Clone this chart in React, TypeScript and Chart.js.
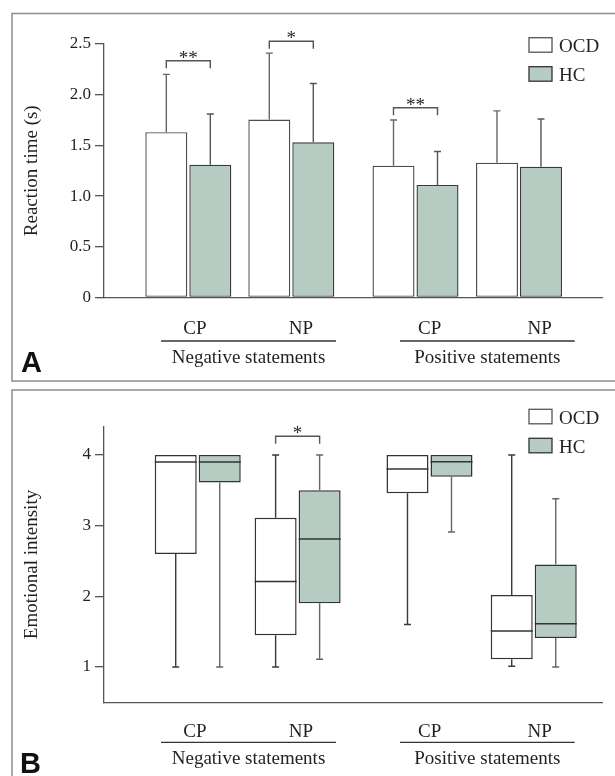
import React, { useEffect, useRef } from 'react';
import { Chart, registerables } from 'chart.js';

Chart.register(...registerables);

// ---------- shared categories ----------
const conditionLabels = ['CP', 'NP', 'CP', 'NP'];
const statementLabels = ['Negative statements', 'Positive statements'];
const seriesLabels = ['OCD', 'HC'];

// ---------- Panel A: reaction time (mean + upward SD) ----------
const reactionTicks = [0, 0.5, 1.0, 1.5, 2.0, 2.5];
const ocdMeanRT = [1.63, 1.755, 1.3, 1.33];
const ocdSdRT = [0.57, 0.655, 0.45, 0.51];
const hcMeanRT = [1.31, 1.53, 1.11, 1.29];
const hcSdRT = [0.5, 0.58, 0.33, 0.47];
const sigGroupsA = [0, 1, 2];
const sigMarksA = ['**', '*', '**'];
const sigLevelsA = [2.335, 2.527, 1.872];

// ---------- Panel B: emotional intensity (box plots) ----------
const intensityTicks = [1, 2, 3, 4];
const ocdMin = [1.0, 1.0, 1.6, 1.01];
const ocdQ1 = [2.6, 1.45, 3.46, 1.11];
const ocdMedian = [3.9, 2.21, 3.8, 1.51];
const ocdQ3 = [4.0, 3.11, 4.0, 2.02];
const ocdMax = [4.0, 4.0, 4.0, 4.0];
const hcMin = [1.0, 1.11, 2.91, 1.0];
const hcQ1 = [3.61, 1.9, 3.69, 1.41];
const hcMedian = [3.9, 2.81, 3.905, 1.61];
const hcQ3 = [4.0, 3.5, 4.0, 2.45];
const hcMax = [4.0, 4.0, 4.0, 3.38];
const sigGroupsB = [1];
const sigMarksB = ['*'];
const sigLevelsB = [4.265];

// ---------- layout (positions on a 0..10 linear x axis) ----------
const X_MIN = 0;
const X_MAX = 10;
const groupPosA = [1.693, 3.761, 6.255, 8.333];
const groupPosB = [1.882, 3.888, 6.536, 8.629];
const conditionLabelPos = [1.825, 3.956, 6.54, 8.749];
const statementStart = [1.145, 5.944];
const statementEnd = [4.659, 9.452];

const SERIF = "'Liberation Serif', 'Times New Roman', serif";
const SANS = "'Liberation Sans', Arial, sans-serif";
const INK = '#231f20';
const AXIS = '#555555';
const OCD_FILL = '#ffffff';
const HC_FILL = '#b6cbc2';

function decorPlugin(p: any) {
  return {
    id: 'decor' + p.letter,
    beforeDraw(chart: any) {
      const ctx = chart.ctx;
      ctx.save();
      ctx.fillStyle = '#ffffff';
      ctx.fillRect(0, 0, chart.width, chart.height);
      ctx.strokeStyle = '#8c8c8c';
      ctx.lineWidth = 1.5;
      ctx.strokeRect(p.frame[0], p.frame[1], p.frame[2], p.frame[3]);
      ctx.fillStyle = '#111111';
      ctx.font = `bold 29px ${SANS}`;
      ctx.textAlign = 'left';
      ctx.textBaseline = 'alphabetic';
      ctx.fillText(p.letter, p.letterPos[0], p.letterPos[1]);
      ctx.restore();
    },
    afterDatasetsDraw(chart: any) {
      const ctx = chart.ctx;
      const xs = chart.scales.x;
      const ys = chart.scales.y;
      const area = chart.chartArea;
      ctx.save();
      ctx.lineCap = 'butt';

      // error bars / whiskers / medians
      chart.data.datasets.forEach((ds: any, di: number) => {
        const meta = chart.getDatasetMeta(di);
        meta.data.forEach((bar: any, i: number) => {
          ctx.strokeStyle = ds.whiskerColor;
          ctx.lineWidth = 1.4;
          if (ds.sd) {
            const top = ys.getPixelForValue(ds.means[i] + ds.sd[i]);
            ctx.beginPath();
            ctx.moveTo(bar.x, bar.y);
            ctx.lineTo(bar.x, top);
            ctx.moveTo(bar.x - 3.5, top);
            ctx.lineTo(bar.x + 3.5, top);
            ctx.stroke();
          }
          if (ds.box) {
            const b = ds.box;
            const pMin = ys.getPixelForValue(b.min[i]);
            const pMax = ys.getPixelForValue(b.max[i]);
            const pQ1 = ys.getPixelForValue(b.q1[i]);
            const pQ3 = ys.getPixelForValue(b.q3[i]);
            ctx.beginPath();
            if (Math.abs(pMax - pQ3) > 0.5) {
              ctx.moveTo(bar.x, pQ3);
              ctx.lineTo(bar.x, pMax);
              ctx.moveTo(bar.x - 3.5, pMax);
              ctx.lineTo(bar.x + 3.5, pMax);
            }
            if (Math.abs(pMin - pQ1) > 0.5) {
              ctx.moveTo(bar.x, pQ1);
              ctx.lineTo(bar.x, pMin);
              ctx.moveTo(bar.x - 3.5, pMin);
              ctx.lineTo(bar.x + 3.5, pMin);
            }
            ctx.stroke();
            const pMed = ys.getPixelForValue(b.med[i]);
            ctx.strokeStyle = ds.borderColor;
            ctx.lineWidth = 1.5;
            ctx.beginPath();
            ctx.moveTo(bar.x - bar.width / 2, pMed);
            ctx.lineTo(bar.x + bar.width / 2, pMed);
            ctx.stroke();
          }
        });
      });

      // significance brackets
      const m0 = chart.getDatasetMeta(0);
      const m1 = chart.getDatasetMeta(1);
      p.sigGroups.forEach((g: number, k: number) => {
        const x1 = m0.data[g].x;
        const x2 = m1.data[g].x;
        const y = ys.getPixelForValue(p.sigLevels[k]);
        ctx.strokeStyle = '#555555';
        ctx.lineWidth = 1.4;
        ctx.beginPath();
        ctx.moveTo(x1, y + 7.5);
        ctx.lineTo(x1, y);
        ctx.lineTo(x2, y);
        ctx.lineTo(x2, y + 7.5);
        ctx.stroke();
        ctx.fillStyle = INK;
        ctx.font = `19px ${SERIF}`;
        ctx.textAlign = 'center';
        ctx.textBaseline = 'alphabetic';
        ctx.fillText(p.sigMarks[k], (x1 + x2) / 2, y + 3);
      });

      // legend
      const fills = [OCD_FILL, HC_FILL];
      const edges = ['#555555', '#333333'];
      seriesLabels.forEach((name, k) => {
        const top = p.legendTop + k * 29;
        ctx.fillStyle = fills[k];
        ctx.fillRect(529, top, 23, 14.5);
        ctx.strokeStyle = edges[k];
        ctx.lineWidth = 1.3;
        ctx.strokeRect(529, top, 23, 14.5);
        ctx.fillStyle = INK;
        ctx.font = `19px ${SERIF}`;
        ctx.textAlign = 'left';
        ctx.textBaseline = 'alphabetic';
        ctx.fillText(name, 559, top + 14.5);
      });

      // condition labels, statement spans
      ctx.fillStyle = INK;
      ctx.font = `19px ${SERIF}`;
      ctx.textAlign = 'center';
      ctx.textBaseline = 'alphabetic';
      conditionLabels.forEach((lab, i) => {
        ctx.fillText(lab, xs.getPixelForValue(conditionLabelPos[i]), area.bottom + p.condOffset);
      });
      statementLabels.forEach((lab, k) => {
        const a = xs.getPixelForValue(statementStart[k]);
        const b = xs.getPixelForValue(statementEnd[k]);
        const ly = area.bottom + p.lineOffset;
        ctx.strokeStyle = '#333333';
        ctx.lineWidth = 1.3;
        ctx.beginPath();
        ctx.moveTo(a, ly);
        ctx.lineTo(b, ly);
        ctx.stroke();
        ctx.fillText(lab, (a + b) / 2, area.bottom + p.groupOffset);
      });
      ctx.restore();
    },
  };
}

function baseOptions(o: any) {
  return {
    responsive: false,
    devicePixelRatio: 1,
    animation: false,
    events: [],
    layout: { padding: o.padding },
    plugins: { legend: { display: false }, tooltip: { enabled: false }, title: { display: false } },
    scales: {
      x: {
        type: 'linear',
        min: X_MIN,
        max: X_MAX,
        offset: false,
        afterBuildTicks: (s: any) => {
          s.ticks = [{ value: X_MIN }];
        },
        afterFit: (s: any) => {
          s.height = 0;
        },
        ticks: { display: false },
        grid: { display: false, drawTicks: false },
        border: { display: true, color: AXIS, width: 1.3 },
      },
      y: {
        type: 'linear',
        min: o.yMin,
        max: o.yMax,
        afterBuildTicks: (s: any) => {
          s.ticks = o.ticks.map((v: number) => ({ value: v }));
        },
        afterFit: (s: any) => {
          s.width = 104;
        },
        grid: { display: true, drawOnChartArea: false, drawTicks: true, tickLength: 9, color: AXIS, lineWidth: 1.3 },
        border: { display: true, color: AXIS, width: 1.3 },
        ticks: { font: { family: SERIF, size: 17 }, color: INK, padding: 4, callback: o.fmt },
        title: {
          display: true,
          text: o.title,
          font: { family: SERIF, size: 19 },
          color: INK,
          padding: { top: 21, bottom: 0 },
        },
      },
    },
  };
}

function configA(): any {
  return {
    type: 'bar',
    data: {
      datasets: [
        {
          label: seriesLabels[0],
          data: groupPosA.map((x, i) => ({ x, y: ocdMeanRT[i] })),
          means: ocdMeanRT,
          sd: ocdSdRT,
          backgroundColor: OCD_FILL,
          borderColor: '#4d4d4d',
          whiskerColor: '#666666',
          borderWidth: 1.4,
          borderSkipped: false,
          categoryPercentage: 0.8544,
          barPercentage: 0.9545,
        },
        {
          label: seriesLabels[1],
          data: groupPosA.map((x, i) => ({ x, y: hcMeanRT[i] })),
          means: hcMeanRT,
          sd: hcSdRT,
          backgroundColor: HC_FILL,
          borderColor: '#3a3a3a',
          whiskerColor: '#555555',
          borderWidth: 1.4,
          borderSkipped: false,
          categoryPercentage: 0.8544,
          barPercentage: 0.9545,
        },
      ],
    },
    options: baseOptions({
      yMin: 0,
      yMax: 2.5,
      ticks: reactionTicks,
      fmt: (v: any) => (Number(v) === 0 ? '0' : Number(v).toFixed(1)),
      title: 'Reaction time (s)',
      padding: { top: 44, bottom: 88.5, left: 0, right: 13 },
    }),
    plugins: [
      decorPlugin({
        letter: 'A',
        frame: [12, 13.5, 700, 367.5],
        letterPos: [21, 372],
        sigGroups: sigGroupsA,
        sigMarks: sigMarksA,
        sigLevels: sigLevelsA,
        legendTop: 37.7,
        condOffset: 36,
        lineOffset: 43.5,
        groupOffset: 65,
      }),
    ],
  };
}

function configB(): any {
  return {
    type: 'bar',
    data: {
      datasets: [
        {
          label: seriesLabels[0],
          data: groupPosB.map((x, i) => ({ x, y: [ocdQ1[i], ocdQ3[i]] })),
          box: { min: ocdMin, q1: ocdQ1, med: ocdMedian, q3: ocdQ3, max: ocdMax },
          backgroundColor: OCD_FILL,
          borderColor: '#333333',
          whiskerColor: '#3a3a3a',
          borderWidth: 1.5,
          borderSkipped: false,
          categoryPercentage: 0.881,
          barPercentage: 0.9545,
        },
        {
          label: seriesLabels[1],
          data: groupPosB.map((x, i) => ({ x, y: [hcQ1[i], hcQ3[i]] })),
          box: { min: hcMin, q1: hcQ1, med: hcMedian, q3: hcQ3, max: hcMax },
          backgroundColor: HC_FILL,
          borderColor: '#333333',
          whiskerColor: '#666666',
          borderWidth: 1.5,
          borderSkipped: false,
          categoryPercentage: 0.881,
          barPercentage: 0.9545,
        },
      ],
    },
    options: baseOptions({
      yMin: 0.5,
      yMax: 4.4,
      ticks: intensityTicks,
      fmt: (v: any) => String(v),
      title: 'Emotional intensity',
      padding: { top: 40.7, bottom: 73.7, left: 0, right: 13 },
    }),
    plugins: [
      decorPlugin({
        letter: 'B',
        frame: [12, 4, 700, 1000],
        letterPos: [20, 387],
        sigGroups: sigGroupsB,
        sigMarks: sigMarksB,
        sigLevels: sigLevelsB,
        legendTop: 23.3,
        condOffset: 34.4,
        lineOffset: 40,
        groupOffset: 62,
      }),
    ],
  };
}

function Panel(props: { make: () => any; top: number; height: number }) {
  const ref = useRef<HTMLCanvasElement>(null);
  useEffect(() => {
    const chart = new Chart(ref.current as HTMLCanvasElement, props.make());
    return () => chart.destroy();
  }, []);
  return (
    <canvas
      ref={ref}
      width={615}
      height={props.height}
      style={{ position: 'absolute', left: 0, top: props.top, width: 615, height: props.height, display: 'block' }}
    />
  );
}

export default function App() {
  return (
    <div style={{ position: 'absolute', left: 0, top: 0, width: 615, height: 776, background: '#fff', overflow: 'hidden' }}>
      <Panel make={configA} top={0} height={386} />
      <Panel make={configB} top={386} height={390} />
    </div>
  );
}
